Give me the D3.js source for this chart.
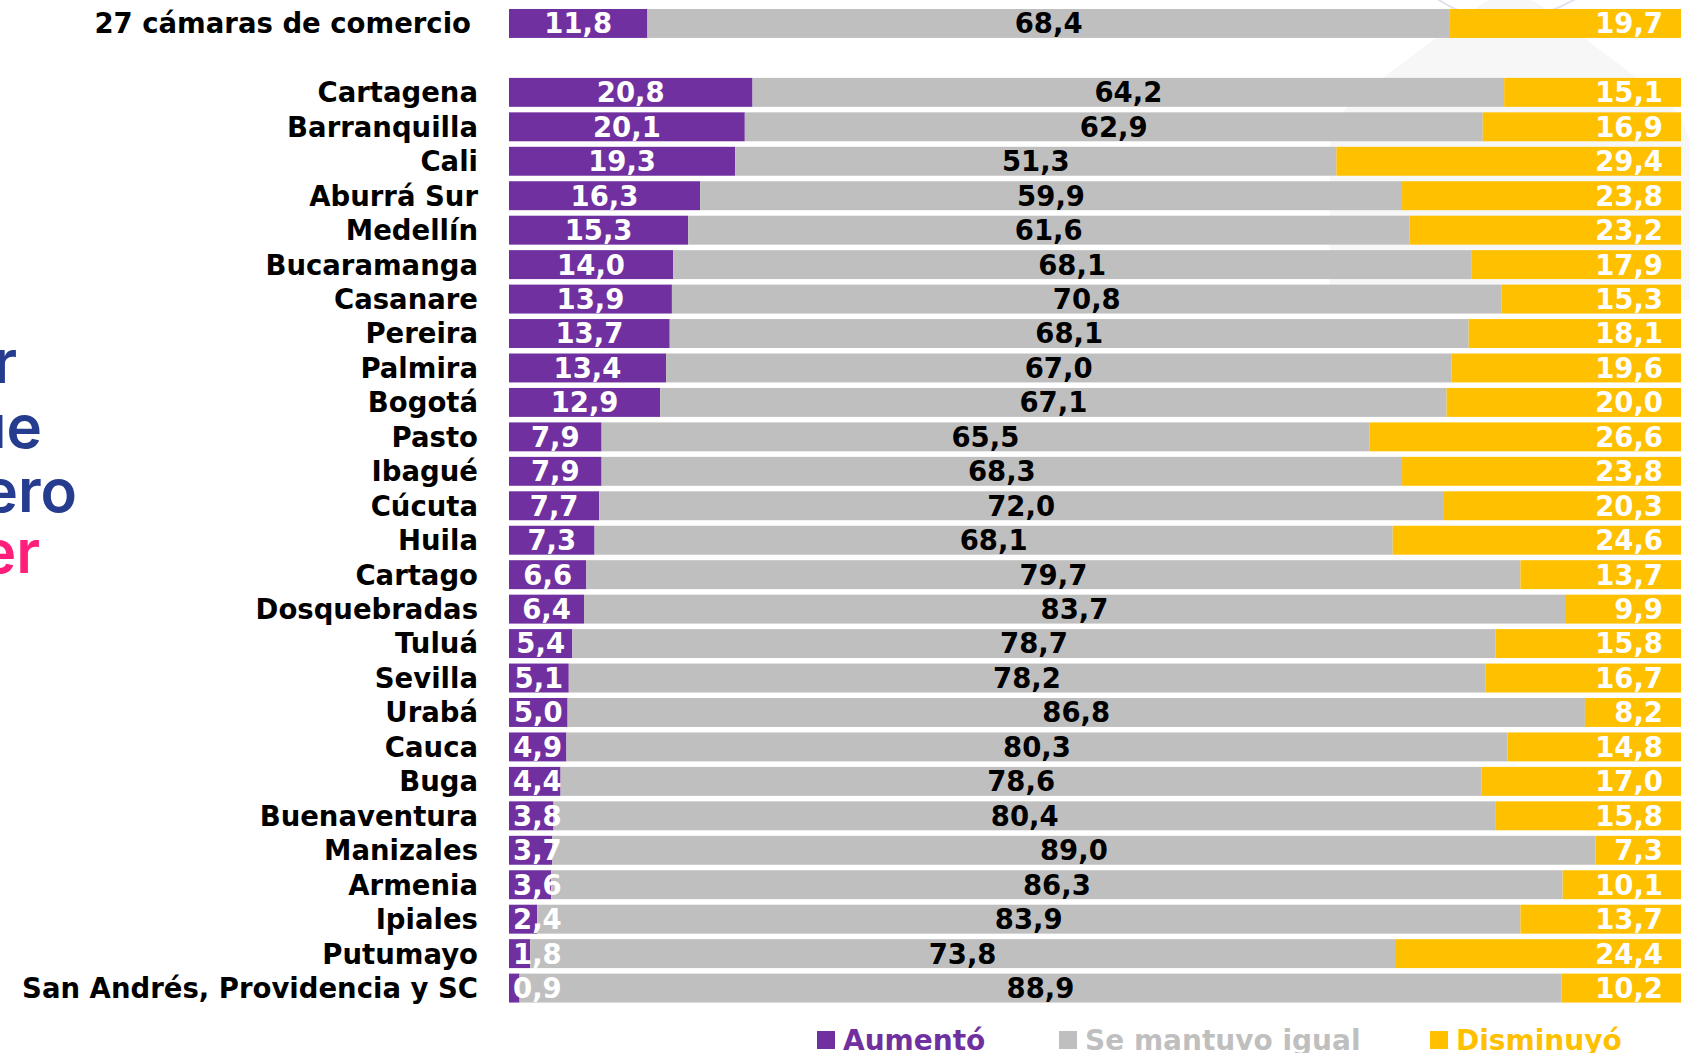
<!DOCTYPE html>
<html>
<head>
<meta charset="utf-8">
<script src="https://cdn.jsdelivr.net/npm/d3@7"></script>
<style>
  html, body { margin: 0; padding: 0; background: #fff; }
  svg { display: block; font-family: "DejaVu Sans", sans-serif; }
</style>
</head>
<body>
<svg id="chart" width="1693" height="1053"></svg>
<script>
// categories, top row is the overall total
var categories = ["27 cámaras de comercio", "Cartagena", "Barranquilla", "Cali", "Aburrá Sur", "Medellín",
  "Bucaramanga", "Casanare", "Pereira", "Palmira", "Bogotá", "Pasto", "Ibagué", "Cúcuta", "Huila",
  "Cartago", "Dosquebradas", "Tuluá", "Sevilla", "Urabá", "Cauca", "Buga", "Buenaventura",
  "Manizales", "Armenia", "Ipiales", "Putumayo", "San Andrés, Providencia y SC"];

var aumento   = [11.8, 20.8, 20.1, 19.3, 16.3, 15.3, 14.0, 13.9, 13.7, 13.4, 12.9, 7.9, 7.9, 7.7, 7.3,
  6.6, 6.4, 5.4, 5.1, 5.0, 4.9, 4.4, 3.8, 3.7, 3.6, 2.4, 1.8, 0.9];
var igual     = [68.4, 64.2, 62.9, 51.3, 59.9, 61.6, 68.1, 70.8, 68.1, 67.0, 67.1, 65.5, 68.3, 72.0, 68.1,
  79.7, 83.7, 78.7, 78.2, 86.8, 80.3, 78.6, 80.4, 89.0, 86.3, 83.9, 73.8, 88.9];
var disminuyo = [19.7, 15.1, 16.9, 29.4, 23.8, 23.2, 17.9, 15.3, 18.1, 19.6, 20.0, 26.6, 23.8, 20.3, 24.6,
  13.7, 9.9, 15.8, 16.7, 8.2, 14.8, 17.0, 15.8, 7.3, 10.1, 13.7, 24.4, 10.2];

var seriesNames = ["Aumentó", "Se mantuvo igual", "Disminuyó"];
var colors = ["#7030A0", "#BFBFBF", "#FFC000"];
var labelColors = ["#fff", "#000", "#fff"];

var keys = ["a", "i", "d"];
var rows = categories.map(function(c, i) {
  return { cat: c, a: aumento[i], i: igual[i], d: disminuyo[i] };
});

var svg = d3.select("#chart");

// faint watermark behind the top right bars
svg.append("path")
  .attr("d", "M1330,150 Q1330,120 1360,95 L1480,5 Q1510,-15 1540,5 L1660,95 Q1690,120 1690,150 L1690,300 L1330,300 Z")
  .attr("fill", "#f7f7f8");
svg.append("path")
  .attr("d", "M1425,-10 Q1500,50 1590,-10")
  .attr("fill", "none").attr("stroke", "#e6e0ee").attr("stroke-width", 2);

// slice of the slide title that is cut off on the left
var sideText = [["r", 17, 383, "#263D8F"], ["ue", 42, 448, "#263D8F"], ["ero", 77, 512, "#263D8F"], ["er", 40, 573, "#FF1F7B"]];
svg.append("g").selectAll("text")
  .data(sideText)
  .join("text")
  .attr("x", function(d) { return d[1]; })
  .attr("y", function(d) { return d[2]; })
  .attr("text-anchor", "end")
  .attr("font-family", "Inter, sans-serif")
  .attr("font-size", 60)
  .attr("font-weight", 600)
  .attr("fill", function(d) { return d[3]; })
  .text(function(d) { return d[0]; });

var domain = [categories[0], "__gap"].concat(categories.slice(1));

var y = d3.scaleBand()
  .domain(domain)
  .range([6.24, 1005.3])
  .paddingInner(0.16)
  .paddingOuter(0.08);

var x = d3.scaleLinear()
  .domain([0, 1])
  .range([509, 1681]);

var stacked = d3.stack()
  .keys(keys)
  .offset(d3.stackOffsetExpand)(rows);

var layers = svg.append("g").selectAll("g")
  .data(stacked)
  .join("g")
  .attr("fill", function(d, i) { return colors[i]; });

layers.selectAll("rect")
  .data(function(d) { return d; })
  .join("rect")
  .attr("x", function(d) { return x(d[0]); })
  .attr("y", function(d) { return y(d.data.cat); })
  .attr("width", function(d) { return x(d[1]) - x(d[0]); })
  .attr("height", y.bandwidth());

// value labels
var fmt = function(v) { return d3.format(".1f")(v).replace(".", ","); };
var fs = 27.5;

stacked.forEach(function(layer, k) {
  svg.append("g").selectAll("text")
    .data(layer)
    .join("text")
    .attr("y", function(d) { return y(d.data.cat) + y.bandwidth() / 2; })
    .attr("dy", "0.36em")
    .attr("font-size", fs)
    .attr("font-weight", 700)
    .attr("fill", labelColors[k])
    .attr("text-anchor", k == 2 ? "end" : "middle")
    .text(function(d) { return fmt(d.data[keys[k]]); })
    .attr("x", function(d) {
      if (k == 2) return x(1) - 18;
      var mid = (x(d[0]) + x(d[1])) / 2;
      if (k == 0) {
        var w = this.getComputedTextLength();
        return Math.max(mid, x(0) + 4 + w / 2);
      }
      return mid;
    });
});

// category labels
svg.append("g").selectAll("text")
  .data(categories)
  .join("text")
  .attr("x", function(d, i) { return i == 0 ? 471 : 478; })
  .attr("y", function(d) { return y(d) + y.bandwidth() / 2; })
  .attr("dy", "0.36em")
  .attr("text-anchor", "end")
  .attr("font-size", fs)
  .attr("font-weight", 700)
  .attr("fill", "#000")
  .text(function(d) { return d; });

// legend
var legX = [817, 1059, 1430];
var leg = svg.append("g").selectAll("g")
  .data(seriesNames)
  .join("g")
  .attr("transform", function(d, i) { return "translate(" + legX[i] + ",1031)"; });
leg.append("rect")
  .attr("width", 18).attr("height", 18)
  .attr("fill", function(d, i) { return colors[i]; });
leg.append("text")
  .attr("x", 26).attr("y", 19)
  .attr("font-size", 28)
  .attr("font-weight", 700)
  .attr("fill", function(d, i) { return colors[i]; })
  .text(function(d) { return d; });
</script>
</body>
</html>
